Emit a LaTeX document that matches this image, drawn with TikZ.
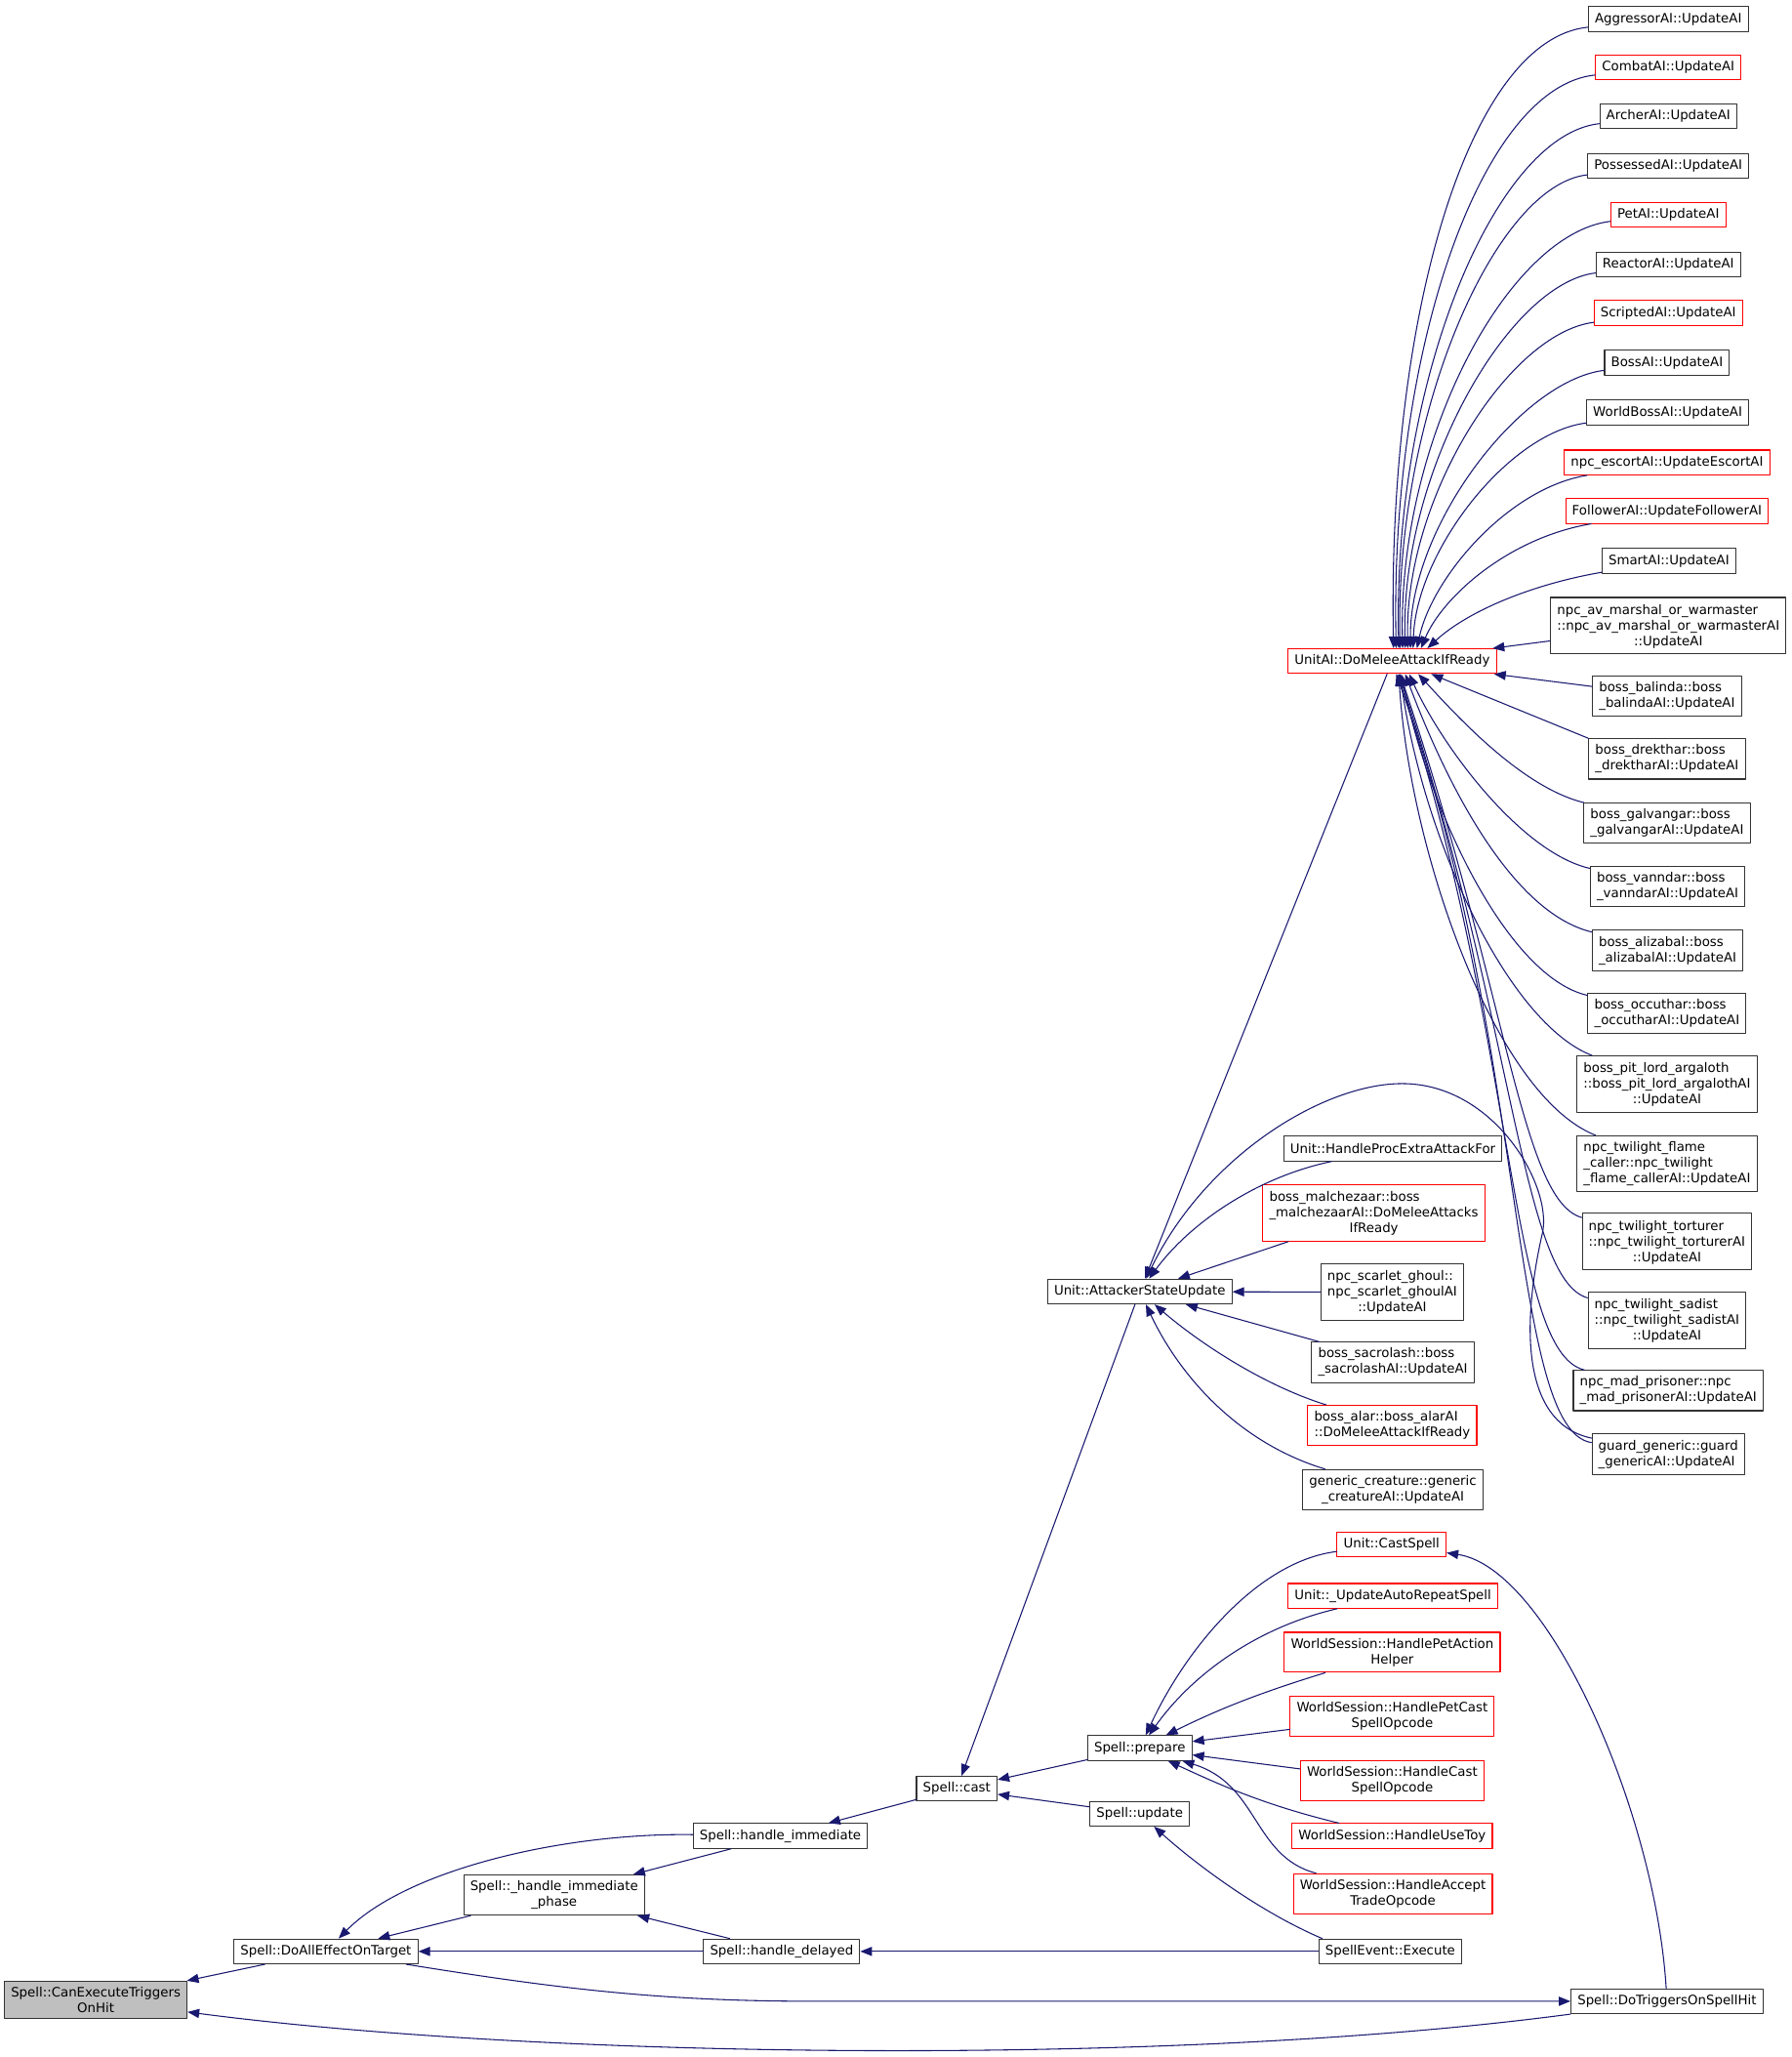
\documentclass[tikz,border=0pt]{standalone}
\usepackage{fontspec}
\setmainfont{DejaVu Sans}
\usetikzlibrary{arrows.meta}
\definecolor{edgeblue}{HTML}{191970}
\definecolor{rootgray}{HTML}{BFBFBF}
\definecolor{boxred}{HTML}{FF0000}
\newcommand{\leftlines}[1]{\begin{tabular}[b]{@{}l@{}}#1\end{tabular}}

\begin{document}
\begin{tikzpicture}[x=1.008pt,y=-1.008pt, font=\fontsize{10}{12}\selectfont, line join=round, line cap=round,
	fn/.style={draw=black!80, line width=0.8pt, fill=white, align=center, inner xsep=5pt, inner ysep=4.5pt, minimum height=19pt},
	fnl/.style={fn, align=left},
	fnred/.style={fn, draw=boxred},
	fnroot/.style={fn, fill=rootgray},
	call/.style={draw=edgeblue, line width=0.8pt, -{Triangle[length=9pt,width=7pt]}}]
	\useasboundingbox (0,0) rectangle (1366,1568);
	% callers of UnitAI::DoMeleeAttackIfReady
	\node[fn]    (agg)       at (1272,14.5)  {AggressorAI::UpdateAI};
	\node[fnred] (combat)    at (1272,51.5)  {CombatAI::UpdateAI};
	\node[fn]    (archer)    at (1272,88.5)  {ArcherAI::UpdateAI};
	\node[fn]    (possessed) at (1272,126.5) {PossessedAI::UpdateAI};
	\node[fnred] (petai)     at (1272,163.5) {PetAI::UpdateAI};
	\node[fn]    (reactor)   at (1272,201.5) {ReactorAI::UpdateAI};
	\node[fnred] (scripted)  at (1272,238.5) {ScriptedAI::UpdateAI};
	\node[fn]    (bossai)    at (1271,276.5) {BossAI::UpdateAI};
	\node[fn]    (worldboss) at (1271.5,314.5) {WorldBossAI::UpdateAI};
	\node[fnred] (escort)    at (1271,352.5) {npc\_escortAI::UpdateEscortAI};
	\node[fnred] (follower)  at (1271,389.5) {FollowerAI::UpdateFollowerAI};
	\node[fn]    (smart)     at (1272.5,427.5) {SmartAI::UpdateAI};
	\node[fn]    (npcav)     at (1272,477)   {\leftlines{npc\_av\_marshal\_or\_warmaster\\::npc\_av\_marshal\_or\_warmasterAI}\\::UpdateAI};
	\node[fnl]   (balinda)   at (1271,530.5) {boss\_balinda::boss\\\_balindaAI::UpdateAI};
	\node[fnl]   (drekthar)  at (1271,578.5) {boss\_drekthar::boss\\\_drektharAI::UpdateAI};
	\node[fnl]   (galvangar) at (1271,627.5) {boss\_galvangar::boss\\\_galvangarAI::UpdateAI};
	\node[fnl]   (vanndar)   at (1271.5,675.5) {boss\_vanndar::boss\\\_vanndarAI::UpdateAI};
	\node[fnl]   (alizabal)  at (1271.5,724.5) {boss\_alizabal::boss\\\_alizabalAI::UpdateAI};
	\node[fnl]   (occuthar)  at (1271,772.5) {boss\_occuthar::boss\\\_occutharAI::UpdateAI};
	\node[fn]    (argaloth)  at (1271,826.5) {\leftlines{boss\_pit\_lord\_argaloth\\::boss\_pit\_lord\_argalothAI}\\::UpdateAI};
	\node[fnl]   (flame)     at (1271,887)   {npc\_twilight\_flame\\\_caller::npc\_twilight\\\_flame\_callerAI::UpdateAI};
	\node[fn]    (torturer)  at (1271,946.5) {\leftlines{npc\_twilight\_torturer\\::npc\_twilight\_torturerAI}\\::UpdateAI};
	\node[fn]    (sadist)    at (1271,1006.5) {\leftlines{npc\_twilight\_sadist\\::npc\_twilight\_sadistAI}\\::UpdateAI};
	\node[fnl]   (madpris)   at (1272,1060)  {npc\_mad\_prisoner::npc\\\_mad\_prisonerAI::UpdateAI};
	\node[fnl]   (guard)     at (1272,1108.5) {guard\_generic::guard\\\_genericAI::UpdateAI};
	\node[fnred] (uai)       at (1061.5,504) {UnitAI::DoMeleeAttackIfReady};
	% middle column
	\node[fn]    (asu)       at (869,984.5)  {Unit::AttackerStateUpdate};
	\node[fn]    (procextra) at (1062,875.5) {Unit::HandleProcExtraAttackFor};
	\node[fnred] (malch)     at (1047.5,924.5) {\leftlines{boss\_malchezaar::boss\\\_malchezaarAI::DoMeleeAttacks}\\IfReady};
	\node[fn]    (scarlet)   at (1061.5,985) {\leftlines{npc\_scarlet\_ghoul::\\npc\_scarlet\_ghoulAI}\\::UpdateAI};
	\node[fnl]   (sacro)     at (1062,1038.5) {boss\_sacrolash::boss\\\_sacrolashAI::UpdateAI};
	\node[fnl,draw=boxred] (alar) at (1061.5,1086.5) {boss\_alar::boss\_alarAI\\::DoMeleeAttackIfReady};
	\node[fn]    (generic)   at (1062,1135.5) {generic\_creature::generic\\\_creatureAI::UpdateAI};
	\node[fnred] (castspell) at (1061,1177.5) {Unit::CastSpell};
	\node[fnred] (autorep)   at (1062,1216.5) {Unit::\_UpdateAutoRepeatSpell};
	\node[fnred] (petaction) at (1061.5,1259.5) {WorldSession::HandlePetAction\\Helper};
	\node[fnred] (petcast)   at (1061.5,1308.5) {WorldSession::HandlePetCast\\SpellOpcode};
	\node[fnred] (castop)    at (1061.5,1357.5) {WorldSession::HandleCast\\SpellOpcode};
	\node[fnred] (usetoy)    at (1061.5,1399.5) {WorldSession::HandleUseToy};
	\node[fnred] (accept)    at (1062,1443.5) {WorldSession::HandleAccept\\TradeOpcode};
	\node[fn]    (spellevent) at (1060,1487.5) {SpellEvent::Execute};
	\node[fn]    (dotrig)    at (1271,1525.5) {Spell::DoTriggersOnSpellHit};
	% spell chain
	\node[fn]    (prepare)   at (869,1332.5) {Spell::prepare};
	\node[fn]    (update)    at (869,1382.5) {Spell::update};
	\node[fn]    (cast)      at (729.5,1363.5) {Spell::cast};
	\node[fn]    (himm)      at (595,1399.5) {Spell::handle\_immediate};
	\node[fn]    (hiphase)   at (422.5,1444.5) {Spell::\_handle\_immediate\\\_phase};
	\node[fn]    (hdel)      at (596,1487.5) {Spell::handle\_delayed};
	\node[fn]    (doall)     at (248.5,1487.5) {Spell::DoAllEffectOnTarget};
	\node[fnroot] (canexec)  at (73,1524.5)  {Spell::CanExecuteTriggers\\OnHit};

	% fan into UnitAI::DoMeleeAttackIfReady
	\draw[call] (agg) .. controls (1120,30) and (1058,240) .. ([xshift=1pt]uai.north);
	\draw[call] (combat) .. controls (1130,66) and (1060,265) .. ([xshift=3pt]uai.north);
	\draw[call] (archer) .. controls (1140,103) and (1062,290) .. ([xshift=5pt]uai.north);
	\draw[call] (possessed) .. controls (1140,141) and (1064,315) .. ([xshift=6pt]uai.north);
	\draw[call] (petai) .. controls (1150,178) and (1066,335) .. ([xshift=8pt]uai.north);
	\draw[call] (reactor) .. controls (1150,216) and (1068,360) .. ([xshift=10pt]uai.north);
	\draw[call] (scripted) .. controls (1150,254) and (1071,380) .. ([xshift=12pt]uai.north);
	\draw[call] (bossai) .. controls (1160,290) and (1075,400) .. ([xshift=14pt]uai.north);
	\draw[call] (worldboss) .. controls (1150,330) and (1080,420) .. ([xshift=16pt]uai.north);
	\draw[call] (escort) .. controls (1150,372) and (1092,440) .. ([xshift=19pt]uai.north);
	\draw[call] (follower) .. controls (1150,410) and (1100,455) .. ([xshift=22pt]uai.north);
	\draw[call] (smart) .. controls (1170,445) and (1120,465) .. ([xshift=27pt]uai.north);
	\draw[call] (npcav) -- (uai);
	\draw[call] (balinda) -- (uai);
	\draw[call] (drekthar.north west) -- ([xshift=30pt]uai.south);
	\draw[call] (galvangar) .. controls (1160,600) and (1110,545) .. ([xshift=20pt]uai.south);
	\draw[call] (vanndar) .. controls (1160,650) and (1100,570) .. ([xshift=13pt]uai.south);
	\draw[call] (alizabal) .. controls (1150,695) and (1100,590) .. ([xshift=10pt]uai.south);
	\draw[call] (occuthar) .. controls (1150,745) and (1090,620) .. ([xshift=7pt]uai.south);
	\draw[call] (argaloth) .. controls (1150,780) and (1085,640) .. ([xshift=6pt]uai.south);
	\draw[call] (flame) .. controls (1140,835) and (1075,650) .. ([xshift=5pt]uai.south);
	\draw[call] (torturer) .. controls (1160,915) and (1150,760) .. ([xshift=6pt]uai.south);
	\draw[call] (sadist) .. controls (1160,975) and (1155,780) .. ([xshift=5pt]uai.south);
	\draw[call] (madpris) .. controls (1150,1030) and (1158,800) .. ([xshift=4pt]uai.south);
	\draw[call] (guard) .. controls (1150,1090) and (1165,790) .. ([xshift=3pt]uai.south);

	% into Unit::AttackerStateUpdate
	\draw[call] (uai) -- (asu);
	\draw[call] (procextra) .. controls (955,898) and (905,935) .. (asu);
	\draw[call] (guard) .. controls (1160,1085) and (1160,1010) .. (1176,940)
		.. controls (1184,905) and (1140,826) .. (1069,826)
		.. controls (1010,826) and (920,880) .. (asu); % long arc over the column
	\draw[call] (malch) -- (asu);
	\draw[call] (scarlet) -- (asu);
	\draw[call] (sacro) -- (asu);
	\draw[call] (alar) .. controls (960,1055) and (910,1020) .. (asu);
	\draw[call] (generic) .. controls (945,1100) and (900,1050) .. (asu);
	\draw[call] (asu) -- (cast);

	% into Spell::prepare and Spell::update
	\draw[call] (castspell) .. controls (960,1190) and (905,1255) .. (prepare);
	\draw[call] (autorep) .. controls (960,1240) and (910,1275) .. (prepare);
	\draw[call] (petaction) .. controls (955,1292) and (925,1305) .. (prepare);
	\draw[call] (petcast) -- (prepare);
	\draw[call] (castop) -- (prepare);
	\draw[call] (usetoy) .. controls (960,1375) and (925,1358) .. (prepare);
	\draw[call] (accept) .. controls (955,1415) and (960,1360) .. (prepare);
	\draw[call] ([xshift=3pt]spellevent.north west) .. controls (955,1455) and (905,1415) .. (update);
	\draw[call] (dotrig) .. controls (1262,1380) and (1180,1195) .. (castspell);
	\draw[call] (prepare) -- (cast);
	\draw[call] (update) -- (cast);

	% lower chain
	\draw[call] (cast) -- (himm);
	\draw[call] (himm) .. controls (430,1397) and (310,1425) .. (doall);
	\draw[call] (himm) -- (hiphase);
	\draw[call] (hdel) -- (hiphase);
	\draw[call] (hiphase) -- (doall);
	\draw[call] (spellevent) -- (hdel);
	\draw[call] (hdel) -- (doall);
	\draw[call] (doall) -- (canexec);
	\draw[call] (doall) .. controls (420,1515) and (500,1525.5) .. (620,1525.5) -- (dotrig);
	\draw[call] (dotrig) .. controls (900,1575) and (420,1570) .. (canexec);
\end{tikzpicture}
\end{document}
